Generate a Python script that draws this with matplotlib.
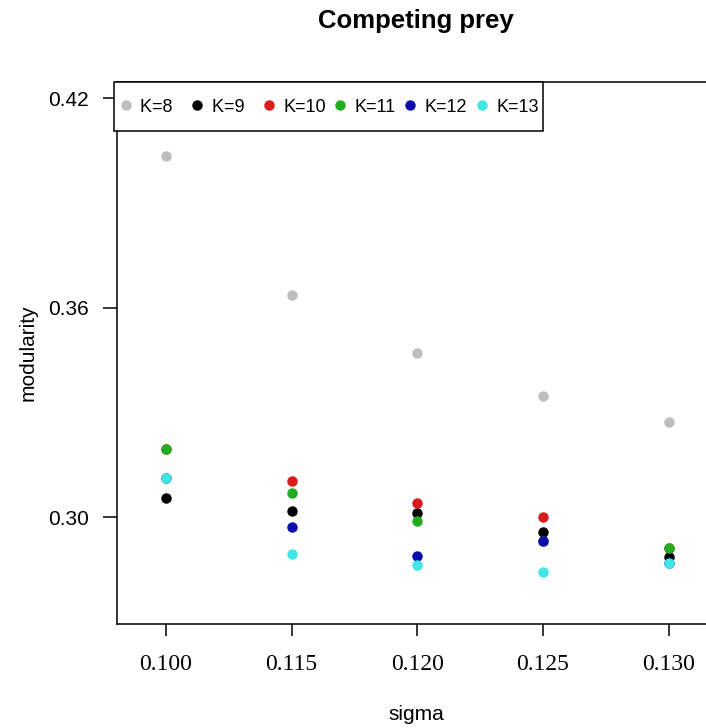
import numpy as np
import matplotlib.pyplot as plt

plt.rcParams['font.family'] = ['Liberation Sans', 'DejaVu Sans']

sigma = ["0.100", "0.115", "0.120", "0.125", "0.130"]
k_labels = ["K=8", "K=9", "K=10", "K=11", "K=12", "K=13"]
k8 = [0.4034, 0.3636, 0.3469, 0.3347, 0.3273]
k9 = [0.3055, 0.3018, 0.3011, 0.2958, 0.2887]
k10 = [0.3194, 0.3104, 0.3040, 0.3000, 0.2911]
k11 = [0.3194, 0.3070, 0.2989, 0.2933, 0.2911]
k12 = [0.3113, 0.2971, 0.2888, 0.2933, 0.2868]
k13 = [0.3113, 0.2895, 0.2863, 0.2842, 0.2868]
series = [k8, k9, k10, k11, k12, k13]
colors = ['#bebebe', '#000000', '#d81c1c', '#22ac22', '#0c0cb0', '#40e6e6']

W, H = 706, 728
fig = plt.figure(figsize=(W / 100, H / 100), dpi=100)
ax = fig.add_axes([117 / W, 104 / H, 598 / W, 542 / H])

for vals, c, lab in zip(series, colors, k_labels):
    ax.plot(sigma, vals, 'o', color=c, ms=6.5, mec=c, label=lab)

ax.set_xlim(-0.39, 4.37)
ax.set_ylim(0.2694, 0.4246)
ax.set_yticks([0.30, 0.36, 0.42])
ax.set_yticklabels(["0.30", "0.36", "0.42"])

for s in ax.spines.values():
    s.set_linewidth(1.1)
ax.tick_params(axis='y', length=10, width=1.1, pad=10, labelsize=15)
ax.tick_params(axis='x', length=8.6, width=1.1, pad=12.7, labelsize=17)
for t in ax.get_xticklabels():
    t.set_family(['Liberation Serif', 'DejaVu Serif'])

# R-style legend: equal column widths, pad short labels
padded = [lab if len(lab) > 3 else lab + "  " for lab in k_labels]
handles = ax.get_lines()
leg = ax.legend(handles, padded, ncol=6, loc='upper left', bbox_to_anchor=(-0.005, 1.0),
                borderaxespad=0, fontsize=13, handlelength=0.8, handletextpad=0.4,
                columnspacing=0.4, borderpad=0.25, handleheight=3.0,
                fancybox=False, edgecolor='black', framealpha=1)
leg.get_frame().set_linewidth(1.1)
# line markers up with the label text
for h in leg.legend_handles:
    h.set_ydata(np.asarray(h.get_ydata()) - 4.3)

fig.text(416 / W, 1 - 28 / H, "Competing prey", ha='center', va='baseline',
         fontsize=18.5, fontweight='bold')
fig.text(416 / W, 1 - 715 / H, "sigma", ha='center', va='center', fontsize=15)
fig.text(28 / W, 1 - 353 / H, "modularity", ha='center', va='center',
         rotation=90, fontsize=15)

fig.savefig('out.png', dpi=100)
